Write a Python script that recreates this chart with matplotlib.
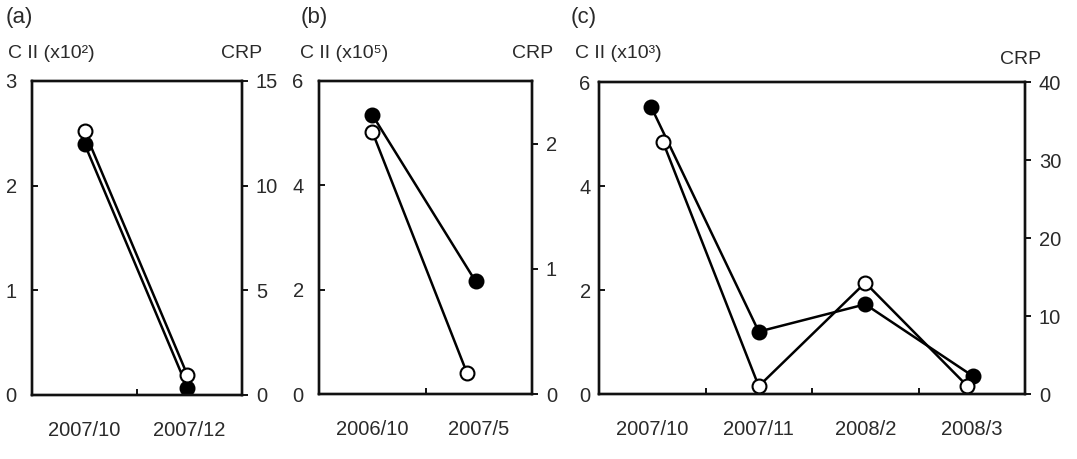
import matplotlib
matplotlib.use("Agg")
import matplotlib.pyplot as plt

plt.rcParams['font.family'] = ['Liberation Sans', 'DejaVu Sans']

# ---- data ----
a_dates = ["2007/10", "2007/12"]
a_cii = [2.52, 0.19]      # C II (x10^2), open circles, left axis
a_crp = [12.0, 0.35]      # CRP, filled circles, right axis

b_dates = ["2006/10", "2007/5"]
b_cii = [5.03, 0.40]      # C II (x10^5)
b_crp = [2.23, 0.90]      # CRP

c_dates = ["2007/10", "2007/11", "2008/2", "2008/3"]
c_cii = [4.85, 0.15, 2.14, 0.15]   # C II (x10^3)
c_crp = [36.8, 8.0, 11.5, 2.3]     # CRP

W, H = 1077, 459
fig = plt.figure(figsize=(W / 100, H / 100), dpi=100)

TXT = '#2a2a2a'
FS = 14.5

panels = [
    dict(tag="(a)", dates=a_dates, cii=a_cii, crp=a_crp, box=(32, 81, 242, 395),
         lylim=(0, 3), lticks=[0, 1, 2, 3], rylim=(0, 15), rticks=[0, 5, 10, 15],
         label="C II (x10²)", open_dx=[0, -0.02], fill_dx=[0, -0.02], lpad=11,
         crp_pos=(221, 53), tag_pos=(6, 17), lab_pos=(8, 53)),
    dict(tag="(b)", dates=b_dates, cii=b_cii, crp=b_crp, box=(319, 81, 532, 394),
         lylim=(0, 6), lticks=[0, 2, 4, 6], rylim=(0, 2.5), rticks=[0, 1, 2],
         label="C II (x10⁵)", open_dx=[0, -0.11], fill_dx=[0, -0.03], lpad=11,
         crp_pos=(512, 53), tag_pos=(301, 17), lab_pos=(300, 53)),
    dict(tag="(c)", dates=c_dates, cii=c_cii, crp=c_crp, box=(599, 82, 1025, 394),
         lylim=(0, 6), lticks=[0, 2, 4, 6], rylim=(0, 40), rticks=[0, 10, 20, 30, 40],
         label="C II (x10³)", open_dx=[0.1, 0, 0, -0.04], fill_dx=[-0.01, 0, 0, 0.01],
         lpad=6, crp_pos=(1000, 60), tag_pos=(571, 17), lab_pos=(575, 53)),
]

for p in panels:
    x0, y0, x1, y1 = p['box']
    rect = [x0 / W, 1 - y1 / H, (x1 - x0) / W, (y1 - y0) / H]
    ax = fig.add_axes(rect)
    ax2 = ax.twinx()
    n = len(p['dates'])
    xc = [i + 0.5 for i in range(n)]

    ax2.plot([x + d for x, d in zip(xc, p['fill_dx'])], p['crp'], '-o', color='black',
             lw=1.8, ms=10, mfc='black', mec='black', mew=1.5)
    ax.plot([x + d for x, d in zip(xc, p['open_dx'])], p['cii'], '-o', color='black',
            lw=1.8, ms=10, mfc='white', mec='black', mew=1.5)
    ax.set_zorder(ax2.get_zorder() + 1)
    ax.patch.set_visible(False)

    ax.set_xlim(0, n)
    ax.set_ylim(*p['lylim'])
    ax2.set_ylim(*p['rylim'])
    ax.set_yticks(p['lticks'])
    ax2.set_yticks(p['rticks'])

    ax.set_xticks(xc)
    ax.set_xticklabels(p['dates'])
    ax.set_xticks(list(range(1, n)), minor=True)
    ax.tick_params(axis='x', which='major', length=0, pad=19, labelsize=FS, labelcolor=TXT)
    ax.tick_params(axis='x', which='minor', direction='in', length=4, width=1.3)
    ax.tick_params(axis='y', direction='in', length=4, width=1.3, pad=p['lpad'],
                   labelsize=FS, labelcolor=TXT)
    ax2.tick_params(axis='y', direction='out', length=4, width=1.3, pad=6,
                    labelsize=FS, labelcolor=TXT)
    for a in (ax, ax2):
        for s in a.spines.values():
            s.set_linewidth(1.7)
            s.set_color('#111111')

    fig.text(p['tag_pos'][0] / W, 1 - p['tag_pos'][1] / H, p['tag'], fontsize=16,
             color=TXT, ha='left', va='center')
    fig.text(p['lab_pos'][0] / W, 1 - p['lab_pos'][1] / H, p['label'], fontsize=14,
             color=TXT, ha='left', va='center')
    fig.text(p['crp_pos'][0] / W, 1 - p['crp_pos'][1] / H, "CRP", fontsize=14,
             color=TXT, ha='left', va='center')

fig.savefig("out.png", dpi=100)
